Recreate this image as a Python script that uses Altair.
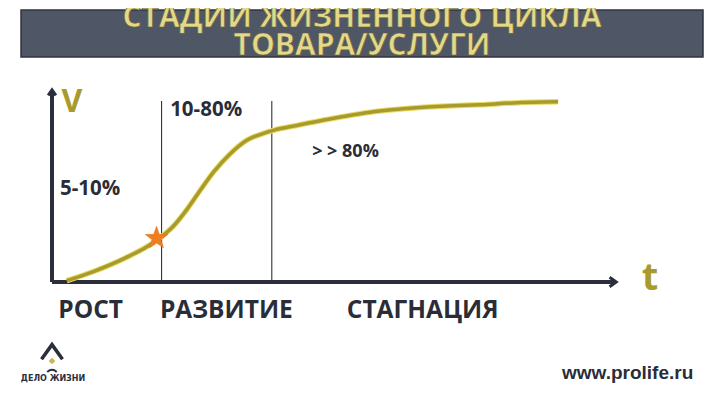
import altair as alt
import pandas as pd

# S-curve (time, volume)
curve_t = [2.6, 7.3, 13.2, 16.7, 19.3, 21.4, 23.7, 26.1, 28.5, 31.3, 34.3, 37.1, 39.1,
           43.1, 48.9, 57.7, 63.6, 69.5, 75.4, 81.2, 89.1]
curve_v = [0.7, 5.4, 12.8, 18.2, 23.4, 28.9, 37.2, 47.3, 56.9, 65.9, 73.1, 76.5, 78.3,
           80.7, 84.0, 88.1, 89.7, 90.7, 91.4, 92.3, 92.9]

# stage boundaries
bound_t = [19.3, 38.7]
bound_top = [93.3, 93.3]

# star marker
star_t = [18.4]
star_v = [22.6]

# annotation labels
pct_text = ["10-80%", "> >  80%", "5-10%"]
pct_t = [20.8, 45.8, 1.4]
pct_v = [85.6, 64.4, 44.8]

stage_text = ["РОСТ", "РАЗВИТИЕ", "СТАГНАЦИЯ"]
stage_t = [1.1, 19.0, 51.9]
stage_v = [-18.6, -18.6, -18.6]

title_lines = ["СТАДИИ ЖИЗНЕННОГО ЦИКЛА", "ТОВАРА/УСЛУГИ"]

OLIVE = "#a99b2b"
DARK = "#2b2f3d"
TEXTC = "#2a2d38"

STAR_PATH = ("M0,-1 L0.235,-0.324 L0.951,-0.309 L0.380,0.124 L0.588,0.809 L0,0.4 "
             "L-0.588,0.809 L-0.380,0.124 L-0.951,-0.309 L-0.235,-0.324 Z")

xs = alt.Scale(domain=[0, 100], range=[44, 612], nice=False, zero=False)
ys = alt.Scale(domain=[0, 100], range=[274, 80], nice=False, zero=False)


def X(f="t"):
    return alt.X(f"{f}:Q", scale=xs, axis=None)


def Y(f="v"):
    return alt.Y(f"{f}:Q", scale=ys, axis=None)


one = pd.DataFrame({"a": [0]})

# header bar and title
header = alt.Chart(one).mark_rect(color="#4f5666", stroke="#30343f", strokeWidth=1.5).encode(
    x=alt.value(13), x2=alt.value(695), y=alt.value(2), y2=alt.value(49))

title = alt.Chart(pd.DataFrame({"line": title_lines, "yy": [19, 47]})).mark_text(
    font="Open Sans", fontWeight="bold", fontSize=30, color="#e4d98a", align="center",
    baseline="alphabetic", stroke="#6b6436", strokeWidth=0.7).encode(
    text="line:N", x=alt.value(354), y=alt.Y("yy:Q", scale=None, axis=None))

# axes
xaxis = alt.Chart(pd.DataFrame({"t": [0], "t2": [99.3], "v": [0]})).mark_rule(
    color=DARK, strokeWidth=4).encode(x=X(), x2="t2:Q", y=Y())
yaxis = alt.Chart(pd.DataFrame({"t": [0], "v": [0], "v2": [98.5]})).mark_rule(
    color=DARK, strokeWidth=4).encode(x=X(), y=Y(), y2="v2:Q")
arrow_r = alt.Chart(pd.DataFrame({"t": [99.0], "v": [0]})).mark_point(
    shape="M -1 -1 L 0.4 0 L -1 1", stroke=DARK, strokeWidth=3, filled=False, size=90,
    opacity=1).encode(x=X(), y=Y())
arrow_u = alt.Chart(pd.DataFrame({"t": [0], "v": [98.2]})).mark_point(
    shape="M -1 1 L 0 -0.4 L 1 1", stroke=DARK, strokeWidth=3, filled=False, size=60,
    opacity=1).encode(x=X(), y=Y())

bounds = alt.Chart(pd.DataFrame({"t": bound_t, "v": [0, 0], "v2": bound_top})).mark_rule(
    color="#1e1e1e", strokeWidth=1).encode(x=X(), y=Y(), y2="v2:Q")

curve_df = pd.DataFrame({"t": curve_t, "v": curve_v})
curve_glow = alt.Chart(curve_df).mark_line(color="#e6dc6a", strokeWidth=5.5,
                                           interpolate="monotone").encode(x=X(), y=Y())
curve = alt.Chart(curve_df).mark_line(color=OLIVE, strokeWidth=3.5,
                                      interpolate="monotone").encode(x=X(), y=Y())

star = alt.Chart(pd.DataFrame({"t": star_t, "v": star_v})).mark_point(
    shape=STAR_PATH, filled=True, fill="#f07d20", stroke="#e06d10", strokeWidth=0.5,
    size=560, opacity=1).encode(x=X(), y=Y())

pct_df = pd.DataFrame({"s": pct_text, "t": pct_t, "v": pct_v})
pct_big = alt.Chart(pct_df.iloc[[0, 2]]).mark_text(
    font="Open Sans", fontWeight="bold", fontSize=20.5, color=TEXTC, align="left",
    baseline="alphabetic").encode(x=X(), y=Y(), text="s:N")
pct_small = alt.Chart(pct_df.iloc[[1]]).mark_text(
    font="Open Sans", fontWeight="bold", fontSize=18, color=TEXTC, align="left",
    baseline="alphabetic").encode(x=X(), y=Y(), text="s:N")

stages = alt.Chart(pd.DataFrame({"s": stage_text, "t": stage_t, "v": stage_v})).mark_text(
    font="Open Sans", fontWeight="bold", fontSize=24.5, color=TEXTC, align="left",
    baseline="alphabetic").encode(x=X(), y=Y(), text="s:N")

lab_v = alt.Chart(pd.DataFrame({"s": ["V"], "t": [3.5], "v": [87.6]})).mark_text(
    font="Open Sans", fontWeight="bold", fontSize=32, color=OLIVE, align="center",
    baseline="alphabetic").encode(x=X(), y=Y(), text="s:N")
lab_t = alt.Chart(pd.DataFrame({"s": ["t"], "t": [105.3], "v": [-4.1]})).mark_text(
    font="Open Sans", fontWeight="bold", fontSize=38, color=OLIVE, align="center",
    baseline="alphabetic").encode(x=X(), y=Y(), text="s:N")

site = alt.Chart(pd.DataFrame({"s": ["www.prolife.ru"]})).mark_text(
    font="Liberation Sans", fontWeight="bold", fontSize=19, color=TEXTC, align="left",
    baseline="alphabetic").encode(x=alt.value(554), y=alt.value(371), text="s:N")

# logo
roof = alt.Chart(one).mark_point(shape="M -1 0.6 L 0 -0.8 L 1 0.6", stroke=DARK, strokeWidth=3.5,
                                 filled=False, size=440, opacity=1).encode(
    x=alt.value(44), y=alt.value(345))
gem = alt.Chart(one).mark_point(shape="diamond", filled=True, color="#c9b45a", size=45,
                                opacity=1).encode(x=alt.value(44), y=alt.value(353))
base = alt.Chart(one).mark_point(shape="M -1 0.4 Q 0 -0.5 1 0.4", stroke=DARK, strokeWidth=2,
                                 filled=False, size=90, opacity=1).encode(
    x=alt.value(44), y=alt.value(362))
logo_txt = alt.Chart(pd.DataFrame({"s": ["ДЕЛО ЖИЗНИ"]})).mark_text(
    font="DejaVu Sans", fontWeight="bold", fontSize=8, color=DARK, align="center",
    baseline="alphabetic").encode(x=alt.value(45), y=alt.value(373), text="s:N")

chart = alt.layer(
    header, title,
    bounds, xaxis, yaxis, arrow_r, arrow_u,
    curve_glow, curve, star,
    pct_big, pct_small, stages, lab_v, lab_t, site,
    roof, gem, base, logo_txt,
).properties(
    width=704, height=389, autosize=alt.AutoSizeParams(type="none"), padding=0,
    background="white"
).configure_view(stroke=None)

chart.save("out.html", embed_options={"renderer": "svg", "actions": False})
